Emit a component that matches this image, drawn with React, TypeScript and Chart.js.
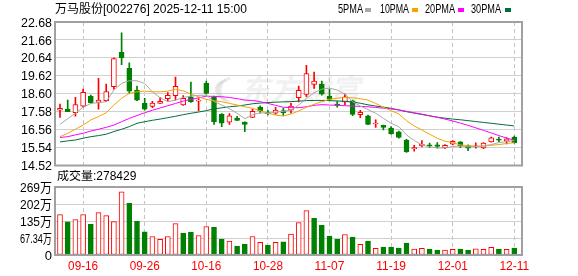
import React, { useEffect, useRef } from 'react';
import { Chart, registerables } from 'chart.js';

Chart.register(...registerables);

// ---------------- data ----------------
const dates = [
  '09-11', '09-12', '09-15', '09-16', '09-17', '09-18', '09-19', '09-22', '09-23', '09-24',
  '09-25', '09-26', '09-29', '09-30', '10-09', '10-10', '10-13', '10-14', '10-15', '10-16',
  '10-17', '10-20', '10-21', '10-22', '10-23', '10-24', '10-27', '10-28', '10-29', '10-30',
  '10-31', '11-03', '11-04', '11-05', '11-06', '11-07', '11-10', '11-11', '11-12', '11-13',
  '11-14', '11-17', '11-18', '11-19', '11-20', '11-21', '11-24', '11-25', '11-26', '11-27',
  '11-28', '12-01', '12-02', '12-03', '12-04', '12-05', '12-08', '12-09', '12-10', '12-11',
];

const opens = [
  17.66, 17.73, 17.52, 17.90, 18.45, 18.11, 18.20, 19.00, 20.96, 20.04,
  18.81, 18.05, 17.88, 18.05, 18.32, 18.49, 17.96, 18.43, 18.18, 19.19,
  18.39, 17.43, 16.99, 17.22, 16.99, 17.26, 17.84, 17.52, 17.49, 17.64,
  17.67, 18.37, 18.56, 19.13, 19.15, 18.47, 18.01, 18.13, 18.20, 17.41,
  17.35, 16.88, 16.81, 16.65, 16.43, 15.97, 15.46, 15.65, 15.69, 15.69,
  15.52, 15.73, 15.86, 15.65, 15.58, 15.52, 15.86, 16.00, 15.90, 16.13,
];
const highs = [
  18.01, 18.24, 18.39, 18.86, 18.52, 19.47, 19.15, 20.64, 22.06, 20.36,
  19.03, 18.34, 18.17, 18.39, 18.66, 19.55, 18.49, 19.26, 18.32, 19.32,
  18.47, 17.47, 17.47, 17.32, 17.01, 17.71, 17.92, 17.66, 17.83, 17.77,
  18.05, 19.03, 20.22, 19.83, 19.32, 18.85, 18.15, 18.58, 18.24, 17.66,
  17.39, 17.11, 16.82, 16.73, 16.48, 16.01, 15.67, 15.94, 15.79, 15.82,
  15.71, 15.94, 15.88, 15.69, 15.81, 15.82, 16.13, 16.13, 16.09, 16.20,
];
const lows = [
  17.26, 17.58, 17.33, 17.83, 18.05, 17.73, 18.15, 18.86, 20.26, 18.62,
  18.20, 17.67, 17.81, 18.05, 18.17, 18.24, 17.94, 18.11, 17.64, 18.58,
  16.86, 16.73, 16.86, 17.07, 16.45, 17.24, 17.49, 17.39, 17.43, 17.37,
  17.49, 18.13, 18.43, 18.90, 18.52, 18.20, 17.83, 17.98, 17.35, 17.24,
  16.84, 16.69, 16.54, 16.30, 16.07, 15.26, 15.33, 15.58, 15.54, 15.50,
  15.48, 15.69, 15.54, 15.37, 15.50, 15.48, 15.84, 15.88, 15.75, 15.79,
];
const closes = [
  17.77, 17.58, 17.99, 18.68, 18.09, 18.24, 18.73, 20.60, 20.64, 18.75,
  18.24, 17.73, 18.07, 18.17, 18.51, 19.02, 18.34, 18.15, 18.24, 18.62,
  17.01, 16.92, 17.35, 17.09, 16.86, 17.60, 17.64, 17.47, 17.67, 17.52,
  17.90, 18.79, 19.75, 19.32, 18.58, 18.28, 17.94, 18.43, 17.43, 17.54,
  16.86, 16.92, 16.69, 16.31, 16.11, 15.31, 15.54, 15.73, 15.63, 15.61,
  15.67, 15.90, 15.63, 15.50, 15.61, 15.79, 16.09, 15.96, 16.03, 15.82,
];
// volume in 万 (10k shares)
const volumes = [
  159.8, 131.0, 140.2, 159.8, 121.8, 167.7, 155.9, 132.3, 250.2, 204.4,
  133.6, 91.7, 73.4, 61.6, 73.4, 124.5, 86.5, 90.4, 77.3, 112.7,
  110.0, 62.9, 55.0, 35.4, 43.2, 73.4, 49.8, 39.3, 49.8, 52.4,
  82.5, 128.4, 175.5, 145.4, 117.9, 74.7, 62.9, 81.2, 70.7, 41.9,
  55.0, 26.2, 31.4, 31.4, 27.5, 47.2, 23.6, 26.2, 23.6, 19.7,
  19.7, 22.3, 23.6, 19.7, 24.9, 22.3, 30.1, 23.6, 22.3, 27.84,
];

const ma5 = [
  16.86, 17.18, 17.49, 17.83, 18.05, 18.09, 18.15, 18.81, 19.19, 19.34,
  19.34, 19.19, 18.71, 18.37, 18.15, 18.24, 18.39, 18.47, 18.51, 18.52,
  18.16, 17.96, 17.75, 17.49, 17.18, 17.40, 17.52, 17.49, 17.56, 17.60,
  17.67, 17.96, 18.33, 18.66, 18.86, 18.92, 18.81, 18.58, 18.15, 17.90,
  17.70, 17.49, 17.20, 16.92, 16.73, 16.26, 15.94, 15.69, 15.58, 15.52,
  15.52, 15.60, 15.63, 15.58, 15.60, 15.63, 15.71, 15.82, 15.88, 15.94,
];
const ma10 = [
  16.16, 16.35, 16.58, 16.82, 17.11, 17.30, 17.52, 17.96, 18.34, 18.62,
  18.71, 18.75, 18.71, 18.71, 18.75, 18.85, 18.77, 18.58, 18.43, 18.28,
  18.20, 18.15, 18.05, 17.96, 17.86, 17.77, 17.64, 17.49, 17.39, 17.33,
  17.45, 17.62, 17.83, 18.00, 18.15, 18.28, 18.35, 18.39, 18.37, 18.32,
  18.24, 18.05, 17.83, 17.64, 17.45, 17.07, 16.77, 16.54, 16.30, 16.07,
  15.90, 15.82, 15.69, 15.65, 15.61, 15.63, 15.67, 15.71, 15.77, 15.82,
];
const ma20 = [
  16.11, 16.16, 16.26, 16.35, 16.48, 16.58, 16.69, 16.82, 17.01, 17.20,
  17.36, 17.52, 17.66, 17.79, 17.92, 18.05, 18.18, 18.28, 18.37, 18.46,
  18.45, 18.43, 18.39, 18.32, 18.24, 18.22, 18.15, 18.05, 17.94, 17.83,
  17.81, 17.81, 17.86, 17.94, 17.98, 17.96, 17.94, 17.92, 17.90, 17.88,
  17.86, 17.82, 17.78, 17.74, 17.68, 17.60, 17.52, 17.44, 17.35, 17.26,
  17.16, 17.05, 16.93, 16.80, 16.66, 16.52, 16.37, 16.22, 16.08, 15.96,
];
const ma30 = [
  15.86, 15.92, 15.97, 16.07, 16.16, 16.22, 16.30, 16.45, 16.58, 16.73,
  16.92, 17.01, 17.09, 17.16, 17.24, 17.32, 17.41, 17.49, 17.56, 17.64,
  17.74, 17.80, 17.86, 17.90, 17.96, 18.03, 18.07, 18.10, 18.12, 18.14,
  18.15, 18.18, 18.21, 18.22, 18.22, 18.21, 18.19, 18.17, 18.13, 18.06,
  17.97, 17.90, 17.84, 17.77, 17.68, 17.58, 17.50, 17.42, 17.34, 17.27,
  17.21, 17.16, 17.12, 17.07, 17.02, 16.97, 16.92, 16.87, 16.82, 16.77,
];

const priceTicks = [22.68, 21.66, 20.64, 19.62, 18.60, 17.58, 16.56, 15.54, 14.52];
const volTicks = [0, 67.34, 134.68, 202.02, 269.36];
const volTickLabels = ['0', '67.34万', '135万', '202万', '269万'];
const xTickLabels = ['09-16', '09-26', '10-16', '10-28', '11-07', '11-19', '12-01', '12-11'];
const titleText = '万马股份[002276] 2025-12-11 15:00';
const volTitleText = '成交量:278429';
const legendNames = ['5PMA', '10PMA', '20PMA', '30PMA'];

// ---------------- styles ----------------
const UP = '#ff0000';
const DOWN = '#008000';
const MA_COLORS = ['#a8a8a8', '#f5a300', '#ff00ff', '#006e3a'];
const GRID = '#d0d0d0';
const VGRID = '#c4c4c4';
const FRAME = '#a0a0a0';
const FONT = '"Liberation Sans", Arial, "Noto Sans CJK SC", sans-serif';
const X_MIN = -0.65;
const X_MAX = 60.0;

const tickIdx = xTickLabels.map((d) => dates.indexOf(d));

const framePlugin = {
  id: 'frame',
  afterDatasetsDraw(chart: any) {
    const { ctx, chartArea: a } = chart;
    ctx.save();
    ctx.strokeStyle = FRAME;
    ctx.lineWidth = 2;
    ctx.strokeRect(a.left, a.top, a.right - a.left, a.bottom - a.top);
    ctx.restore();
  },
};

const pricePlugin = {
  id: 'priceText',
  beforeDatasetsDraw(chart: any) {
    const { ctx } = chart;
    ctx.save();
    // watermark
    ctx.fillStyle = 'rgba(190,190,190,0.22)';
    ctx.font = 'italic bold 30px "Noto Sans CJK SC", sans-serif';
    ctx.textBaseline = 'middle';
    ctx.textAlign = 'left';
    ctx.fillText('东方财富', 240, 90, 138);
    ctx.strokeStyle = 'rgba(190,190,190,0.28)';
    ctx.lineWidth = 3;
    for (let k = 0; k < 3; k++) {
      ctx.beginPath();
      ctx.arc(232 - k * 4, 90, 12 - k * 2, Math.PI * 0.55, Math.PI * 1.45);
      ctx.stroke();
    }
    ctx.restore();
  },
  afterDraw(chart: any) {
    const { ctx, scales } = chart;
    ctx.save();
    ctx.fillStyle = '#000';
    ctx.textBaseline = 'middle';
    ctx.font = '12px ' + FONT;
    ctx.textAlign = 'left';
    ctx.fillText(titleText, 55, 10, 198);
    // legend
    const lx = [338, 380, 425, 471];
    const lw = [25, 29, 30, 30];
    const sx = [365, 412, 458, 505];
    legendNames.forEach((n, i) => {
      ctx.fillStyle = '#000';
      ctx.fillText(n, lx[i], 10, lw[i]);
      ctx.fillStyle = MA_COLORS[i];
      ctx.fillRect(sx[i], 8, 6, 4);
    });
    // y labels
    ctx.fillStyle = '#000';
    ctx.textAlign = 'right';
    ctx.font = '13px ' + FONT;
    priceTicks.forEach((v) => {
      ctx.fillText(v.toFixed(2), 52, scales.y.getPixelForValue(v) + 1, 31);
    });
    ctx.restore();
  },
};

const volPlugin = {
  id: 'volText',
  afterDraw(chart: any) {
    const { ctx, scales } = chart;
    ctx.save();
    ctx.fillStyle = '#000';
    ctx.textBaseline = 'middle';
    ctx.font = '12px ' + FONT;
    ctx.textAlign = 'left';
    ctx.fillText(volTitleText, 57, 7);
    ctx.textAlign = 'right';
    ctx.font = '13px ' + FONT;
    volTicks.forEach((v, i) => {
      ctx.fillText(volTickLabels[i], 52, scales.y.getPixelForValue(v) + 1, 32);
    });
    ctx.font = '12px ' + FONT;
    ctx.fillStyle = UP;
    ctx.textAlign = 'center';
    tickIdx.forEach((idx, i) => {
      ctx.fillText(xTickLabels[i], scales.x.getPixelForValue(idx), 97, 30);
    });
    ctx.restore();
  },
};

function xScale(): any {
  return {
    type: 'linear',
    offset: false,
    min: X_MIN,
    max: X_MAX,
    afterBuildTicks: (s: any) => {
      s.ticks = tickIdx.map((v) => ({ value: v }));
    },
    ticks: { display: false },
    grid: { color: VGRID, drawTicks: false, lineWidth: 1, offset: false },
    border: { display: false, dash: [4, 3] },
  };
}

export default function App() {
  const priceRef = useRef<HTMLCanvasElement>(null);
  const volRef = useRef<HTMLCanvasElement>(null);

  useEffect(() => {
    const candleUp = opens.map((o, i) => closes[i] >= o);
    const volUp = closes.map((c, i) => c >= (i > 0 ? closes[i - 1] : opens[i]));

    const maSets = [ma5, ma10, ma20, ma30].map((arr, k) => ({
      type: 'line',
      label: legendNames[k],
      data: arr.map((v, i) => ({ x: i, y: v })),
      borderColor: MA_COLORS[k],
      borderWidth: 1,
      pointRadius: 0,
      tension: 0,
      fill: false,
      order: 0,
    }));

    const priceChart = new Chart(priceRef.current as HTMLCanvasElement, {
      type: 'bar',
      data: {
        datasets: [
          ...maSets,
          {
            type: 'bar',
            label: 'body',
            data: opens.map((o, i) => ({ x: i, y: [o, closes[i]] })),
            backgroundColor: candleUp.map((u) => (u ? '#ffffff' : DOWN)),
            borderColor: candleUp.map((u) => (u ? UP : DOWN)),
            borderWidth: 1,
            borderSkipped: false,
            barThickness: 5,
            minBarLength: 1,
            grouped: false,
            order: 1,
          },
          {
            type: 'bar',
            label: 'wick',
            data: lows.map((l, i) => ({ x: i, y: [l, highs[i]] })),
            backgroundColor: candleUp.map((u) => (u ? UP : DOWN)),
            borderWidth: 0,
            barThickness: 1,
            minBarLength: 1,
            grouped: false,
            order: 2,
          },
        ] as any,
      },
      options: {
        animation: false,
        responsive: false,
        devicePixelRatio: 1,
        layout: { padding: { top: 22, right: 56, bottom: 6.5, left: 0 } },
        plugins: { legend: { display: false }, tooltip: { enabled: false } },
        scales: {
          x: xScale(),
          y: {
            min: 14.52,
            max: 22.68,
            afterBuildTicks: (s: any) => {
              s.ticks = priceTicks.map((v) => ({ value: v }));
            },
            afterFit: (s: any) => {
              s.width = 55;
            },
            ticks: { display: false },
            grid: { color: GRID, drawTicks: false },
            border: { display: false },
          },
        },
      } as any,
      plugins: [framePlugin, pricePlugin],
    });

    const volChart = new Chart(volRef.current as HTMLCanvasElement, {
      type: 'bar',
      data: {
        datasets: [
          {
            label: 'vol',
            data: volumes.map((v, i) => ({ x: i, y: v })),
            backgroundColor: volUp.map((u) => (u ? '#ffffff' : DOWN)),
            borderColor: volUp.map((u) => (u ? UP : DOWN)),
            borderWidth: 1,
            borderSkipped: false,
            barThickness: 5,
            grouped: false,
          },
        ] as any,
      },
      options: {
        animation: false,
        responsive: false,
        devicePixelRatio: 1,
        layout: { padding: { top: 17, right: 56, bottom: 21, left: 0 } },
        plugins: { legend: { display: false }, tooltip: { enabled: false } },
        scales: {
          x: xScale(),
          y: {
            min: 0,
            max: 269.36,
            afterBuildTicks: (s: any) => {
              s.ticks = volTicks.map((v) => ({ value: v }));
            },
            afterFit: (s: any) => {
              s.width = 55;
            },
            ticks: { display: false },
            grid: { color: GRID, drawTicks: false },
            border: { display: false },
          },
        },
      } as any,
      plugins: [framePlugin, volPlugin],
    });

    return () => {
      priceChart.destroy();
      volChart.destroy();
    };
  }, []);

  return (
    <div style={{ position: 'fixed', left: 0, top: 0, width: 578, height: 276, background: '#fff' }}>
      <canvas
        ref={priceRef}
        width={578}
        height={172}
        style={{ position: 'absolute', left: 0, top: 0, width: 578, height: 172 }}
      />
      <canvas
        ref={volRef}
        width={578}
        height={106}
        style={{ position: 'absolute', left: 0, top: 170, width: 578, height: 106 }}
      />
    </div>
  );
}
